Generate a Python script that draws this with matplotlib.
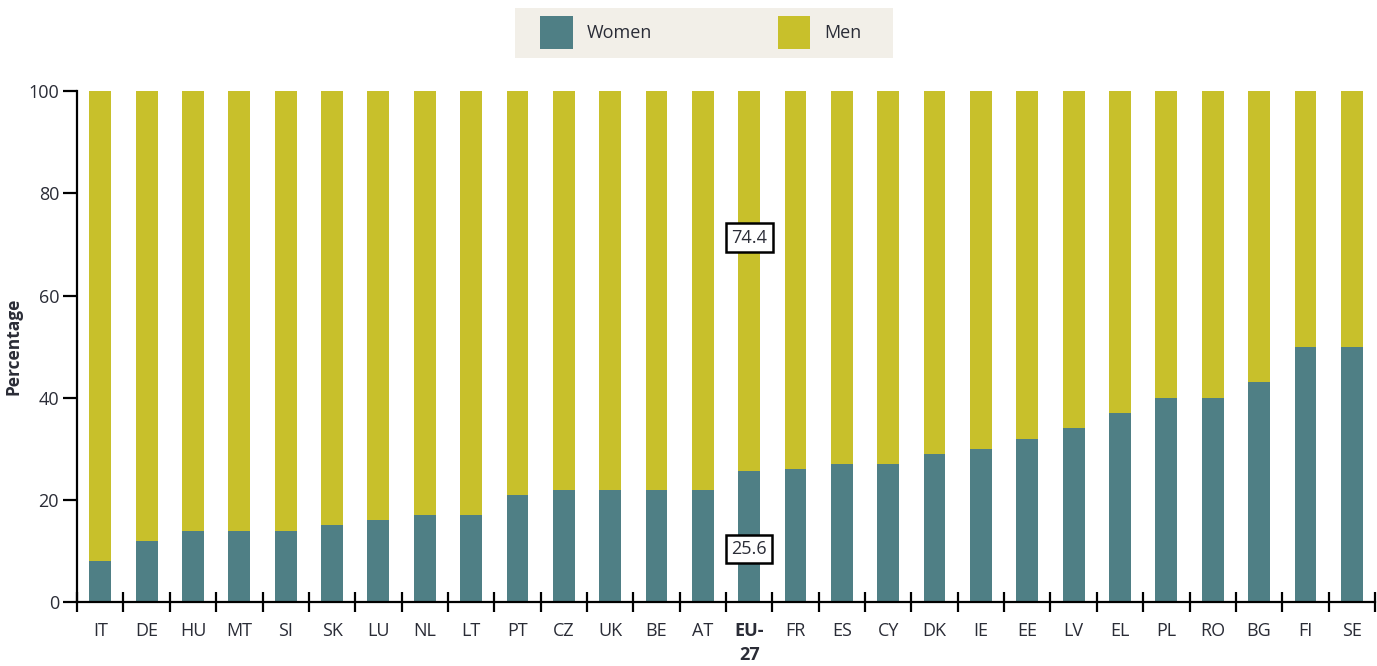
import matplotlib.pyplot as plt
import numpy as np
from matplotlib.patches import Rectangle

# Country codes and share of women / men (%)
countries = ['IT', 'DE', 'HU', 'MT', 'SI', 'SK', 'LU', 'NL', 'LT', 'PT', 'CZ', 'UK', 'BE', 'AT',
             'EU-\n27', 'FR', 'ES', 'CY', 'DK', 'IE', 'EE', 'LV', 'EL', 'PL', 'RO', 'BG', 'FI', 'SE']
women = [8, 12, 14, 14, 14, 15, 16, 17, 17, 21, 22, 22, 22, 22,
         25.6, 26, 27, 27, 29, 30, 32, 34, 37, 40, 40, 43, 50, 50]
men = [100 - w for w in women]

# EU-27 labels
eu_women_label = '25.6'
eu_men_label = '74.4'

women_color = '#4f7f85'
men_color = '#c8c02b'
text_color = '#2a2c36'

plt.rcParams['font.family'] = ['Open Sans', 'DejaVu Sans']

W, H = 1377, 666
fig = plt.figure(figsize=(W / 100, H / 100), dpi=100)
ax = fig.add_axes([0.056, 0.096, 0.9425, 0.767])

x = np.arange(len(countries))
ax.bar(x, women, width=0.47, color=women_color, zorder=2)
ax.bar(x, men, width=0.47, bottom=women, color=men_color, zorder=2)

ax.set_xlim(-0.5, len(countries) - 0.5)
ax.set_ylim(0, 100)

# Boxed labels for EU-27
eu = countries.index('EU-\n27')
box = dict(boxstyle='square,pad=0.3', facecolor='white', edgecolor='black', linewidth=1.8)
ax.text(eu, 71.3, eu_men_label, ha='center', va='center', fontsize=13, color=text_color, bbox=box, zorder=3)
ax.text(eu, 10.4, eu_women_label, ha='center', va='center', fontsize=13, color=text_color, bbox=box, zorder=3)

# Axes styling
for side in ['top', 'right']:
    ax.spines[side].set_visible(False)
ax.spines['left'].set_linewidth(1.6)
ax.spines['bottom'].set_linewidth(1.6)

ax.set_yticks([0, 20, 40, 60, 80, 100])
ax.tick_params(axis='y', labelsize=13, labelcolor=text_color, length=10, width=1.6, pad=3)
ax.set_ylabel('Percentage', fontsize=12.5, fontweight='bold', color=text_color, labelpad=4)

# Category labels without ticks, boundary ticks crossing the axis
ax.set_xticks(x)
ax.set_xticklabels(countries, fontsize=13, color=text_color, linespacing=1.45)
ax.tick_params(axis='x', length=0, pad=14)
ax.get_xticklabels()[eu].set_fontweight('bold')
ax.set_xticks(np.arange(-0.5, len(countries)), minor=True)
ax.tick_params(axis='x', which='minor', direction='inout', length=15, width=1.6)

# Legend in a beige box above the plot (figure pixel layout)
def fx(px):
    return px / W

def fy(py):
    return 1 - py / H

fig.patches.append(Rectangle((fx(515), fy(58)), fx(893) - fx(515), fy(8) - fy(58),
                             transform=fig.transFigure, facecolor='#f2efe8', edgecolor='none'))
fig.patches.append(Rectangle((fx(540), fy(49)), fx(573) - fx(540), fy(16) - fy(49),
                             transform=fig.transFigure, facecolor=women_color, edgecolor='none'))
fig.patches.append(Rectangle((fx(778), fy(49)), fx(810) - fx(778), fy(16) - fy(49),
                             transform=fig.transFigure, facecolor=men_color, edgecolor='none'))
fig.text(fx(587), fy(33), 'Women', ha='left', va='center', fontsize=13, color=text_color)
fig.text(fx(824), fy(33), 'Men', ha='left', va='center', fontsize=13, color=text_color)

fig.savefig('out.png', dpi=100)
